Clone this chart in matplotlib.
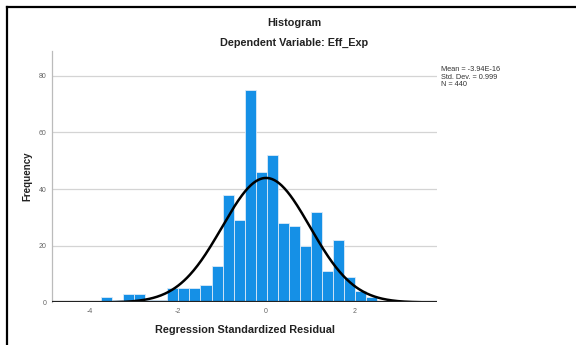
import numpy as np
import matplotlib
matplotlib.use("Agg")
import matplotlib.pyplot as plt
from matplotlib.lines import Line2D

plt.rcParams['font.family'] = ['Liberation Sans', 'DejaVu Sans']
plt.rcParams['axes.unicode_minus'] = False

# histogram of regression standardized residuals (bin width 0.25)
bin_start = -3.74
bin_width = 0.25
counts = [2, 1, 3, 3, 1, 1, 5, 5, 5, 6, 13, 38, 29, 75, 46, 52,
          28, 27, 20, 32, 11, 22, 9, 4, 2]
x_ticks = [-4, -2, 0, 2]
y_ticks = [0, 20, 40, 60, 80]

# summary shown at the right
mean = -3.94e-16
std = 0.999
n = 440

fig = plt.figure(figsize=(5.76, 3.45), dpi=100)
ax = fig.add_axes([0.0898, 0.1232, 0.6694, 0.7298])

lefts = bin_start + bin_width * np.arange(len(counts))
ax.bar(lefts, counts, width=bin_width, align='edge', color='#1590E6',
       edgecolor='#dceaf7', linewidth=0.6, zorder=2)

# fitted normal curve
xs = np.linspace(-4.87, 3.89, 400)
ys = n * bin_width / (std * np.sqrt(2 * np.pi)) * np.exp(-0.5 * ((xs - mean) / std) ** 2)
ax.plot(xs, ys, color='black', lw=1.8, zorder=3)

ax.set_xlim(-4.87, 3.89)
ax.set_ylim(0, 88.8)
ax.set_xticks(x_ticks)
ax.set_yticks(y_ticks)
ax.tick_params(length=0, labelsize=5, colors='#666666', pad=4)
for y in y_ticks[1:]:
    ax.axhline(y, color='#d4d4d4', lw=0.9, zorder=1)
ax.axhline(0, color='#222222', lw=1.6, zorder=4)

for s in ['top', 'right', 'bottom']:
    ax.spines[s].set_visible(False)
ax.spines['left'].set_color('#bbbbbb')
ax.spines['left'].set_linewidth(0.9)

ax.set_xlabel('Regression Standardized Residual', fontsize=7.8,
              fontweight='bold', color='#222222', labelpad=7)
ax.set_ylabel('Frequency', fontsize=7, fontweight='bold',
              color='#222222', labelpad=4)

fig.text(294 / 576, 1 - 22.5 / 345, 'Histogram', ha='center', va='center',
         fontsize=7.8, fontweight='bold', color='#222222')
fig.text(294 / 576, 1 - 43 / 345, 'Dependent Variable: Eff_Exp',
         ha='center', va='center', fontsize=7.8, fontweight='bold',
         color='#222222')

fig.text(441 / 576, 1 - 66 / 345,
         'Mean = -3.94E-16\nStd. Dev. = 0.999\nN = 440',
         ha='left', va='top', fontsize=5.3, color='#333333', linespacing=1.12)

# outer frame: left and top edges
fig.add_artist(Line2D([7 / 576, 7 / 576], [0, 1 - 7 / 345],
                      transform=fig.transFigure, color='black', lw=1.6))
fig.add_artist(Line2D([7 / 576, 1], [1 - 7 / 345, 1 - 7 / 345],
                      transform=fig.transFigure, color='black', lw=1.6))

fig.savefig('out.png', dpi=100)
